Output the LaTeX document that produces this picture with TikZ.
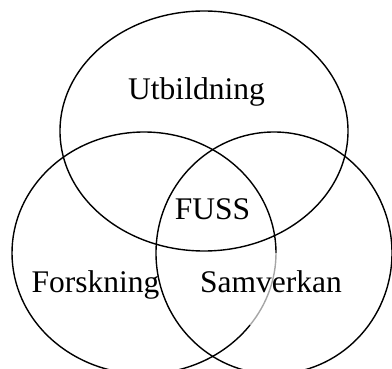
\documentclass[tikz,border=0pt]{standalone}
\usepackage{fontspec}
\setmainfont{Liberation Serif}
\begin{document}
\begin{tikzpicture}[x=1pt,y=-1pt,
  ring/.style={draw=black,line width=1.4pt},
  label/.style={inner sep=0pt,anchor=base,font=\fontsize{31.5}{36}\selectfont}]
\useasboundingbox (0,0) rectangle (392,369);
% top ellipse
\draw[ring] (204,131) ellipse [x radius=144,y radius=120];
% left ellipse (part of its right side rendered grey)
\draw[ring] (144,253) ++(36.5:132 and 121) arc[start angle=36.5,end angle=360,x radius=132,y radius=121];
\draw[ring,draw=black!35] (276,253) arc[start angle=0,end angle=36.5,x radius=132,y radius=121];
% right ellipse
\draw[ring] (274,253) ellipse [x radius=118,y radius=121];
\node[label] (utb) at (196.5,100) {Utbildning};
\node[label] (fuss) at (212.5,220) {FUSS};
\node[label] (fors) at (95.5,293) {Forskning};
\node[label] (samv) at (271,293) {Samverkan};
\end{tikzpicture}
\end{document}
